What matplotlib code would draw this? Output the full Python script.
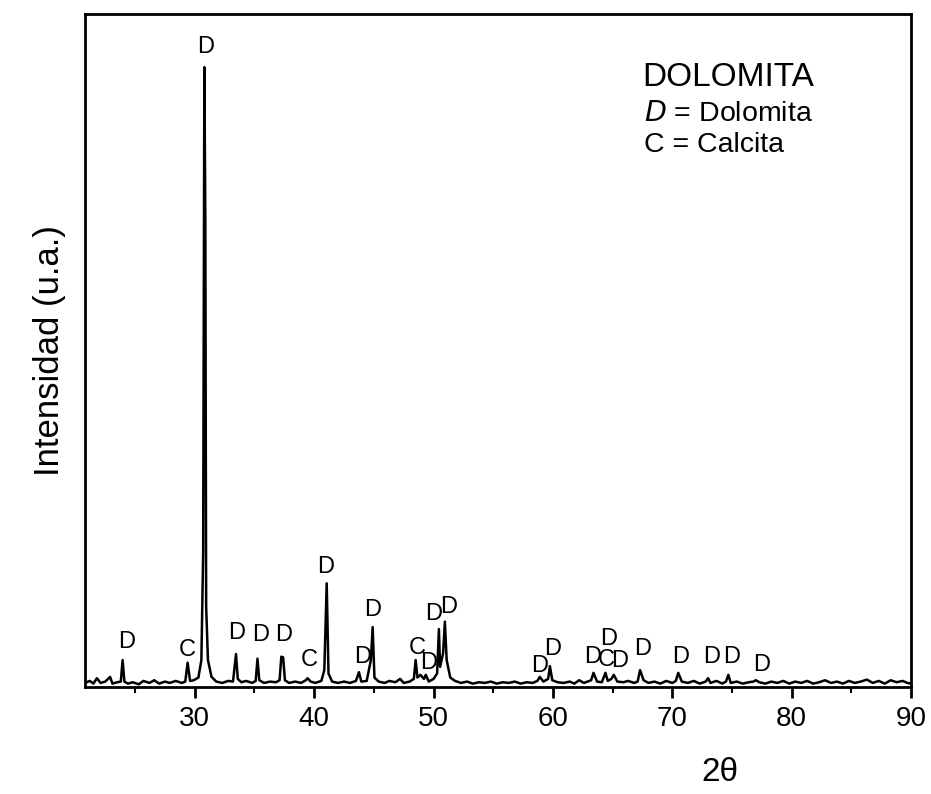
import matplotlib
matplotlib.use("Agg")
import matplotlib.pyplot as plt
from matplotlib.ticker import MultipleLocator

plt.rcParams['font.family'] = ['Liberation Sans', 'DejaVu Sans']

# difractograma (2θ, intensidad u.a.)
two_theta = [20.8, 21.2, 21.5, 21.8, 22.1, 22.5, 22.9, 23.1, 23.5, 23.8, 23.95, 24.1, 24.4,
             24.8, 25.3, 25.7, 26.2, 26.6, 27.0, 27.5, 27.9, 28.4, 28.9, 29.2, 29.4, 29.6,
             29.9, 30.3, 30.55, 30.7, 30.8, 30.88, 30.95, 31.1, 31.4, 31.8, 32.3, 32.8, 33.2,
             33.45, 33.6, 33.9, 34.3, 34.8, 35.1, 35.25, 35.4, 35.8, 36.3, 36.8, 37.1, 37.25,
             37.4, 37.55, 37.9, 38.4, 38.9, 39.3, 39.45, 39.7, 40.1, 40.6, 40.85, 41.05, 41.2,
             41.5, 42.0, 42.5, 43.0, 43.5, 43.75, 43.95, 44.4, 44.75, 44.9, 45.05, 45.4, 45.9,
             46.3, 46.8, 47.2, 47.5, 48.0, 48.35, 48.5, 48.65, 48.9, 49.2, 49.35, 49.6, 50.0,
             50.3, 50.45, 50.55, 50.8, 50.95, 51.1, 51.4, 51.8, 52.3, 52.8, 53.3, 53.8, 54.3,
             54.8, 55.3, 55.8, 56.3, 56.8, 57.3, 57.8, 58.3, 58.7, 58.9, 59.2, 59.6, 59.75,
             59.95, 60.4, 60.9, 61.4, 61.8, 62.2, 62.6, 63.2, 63.4, 63.7, 64.1, 64.4, 64.6,
             64.9, 65.1, 65.4, 65.9, 66.3, 66.8, 67.1, 67.3, 67.6, 68.0, 68.5, 69.0, 69.5,
             70.0, 70.3, 70.5, 70.8, 71.3, 71.8, 72.3, 72.8, 73.0, 73.2, 73.7, 74.2, 74.5,
             74.7, 74.9, 75.4, 75.9, 76.4, 76.8, 77.0, 77.3, 77.8, 78.3, 78.8, 79.3, 79.8,
             80.3, 80.8, 81.3, 81.8, 82.3, 82.8, 83.3, 83.8, 84.3, 84.8, 85.3, 85.8, 86.3,
             86.8, 87.3, 87.8, 88.3, 88.8, 89.3, 89.7, 90.0]
intensity = [6, 9, 5, 13, 6, 8, 15, 5, 7, 8, 40, 8, 5,
             7, 4, 9, 6, 10, 5, 8, 6, 9, 6, 8, 36, 9,
             10, 14, 40, 200, 921, 700, 120, 40, 15, 8, 6, 9, 8,
             49, 12, 7, 9, 6, 9, 42, 10, 6, 8, 7, 10, 45,
             44, 10, 6, 8, 6, 10, 13, 8, 6, 9, 25, 154, 20,
             8, 6, 8, 6, 9, 22, 8, 9, 40, 89, 14, 8, 6,
             9, 7, 12, 6, 8, 12, 40, 14, 18, 12, 18, 8, 12,
             20, 86, 30, 50, 97, 40, 14, 9, 6, 8, 5, 7, 6,
             8, 5, 7, 6, 8, 5, 7, 6, 9, 15, 8, 12, 31,
             10, 7, 6, 8, 5, 10, 6, 10, 21, 8, 7, 21, 9,
             12, 18, 8, 7, 9, 6, 8, 25, 10, 6, 8, 5, 9,
             6, 9, 21, 8, 6, 9, 5, 8, 13, 6, 9, 5, 8,
             18, 6, 8, 5, 7, 8, 10, 7, 5, 8, 6, 9, 5,
             8, 6, 9, 5, 7, 10, 6, 8, 5, 9, 6, 8, 11,
             6, 9, 5, 10, 7, 9, 6, 5]

# etiquetas de fases
peak_labels = ['D', 'C', 'D', 'D', 'D', 'D', 'C', 'D', 'D', 'D', 'C', 'D', 'D', 'D',
               'D', 'D', 'D', 'C', 'D', 'D', 'D', 'D', 'D', 'D', 'D']
label_x = [24.3, 29.4, 30.9, 33.5, 35.5, 37.4, 39.6, 41.0, 44.1, 44.9, 48.6, 49.6, 50.0, 51.3,
           58.9, 60.0, 63.3, 64.5, 64.7, 65.6, 67.5, 70.7, 73.3, 75.0, 77.5]
label_y = [67, 55, 951, 80, 77, 77, 40, 178, 45, 115, 58, 36, 109, 119,
           31, 56, 45, 40, 72, 38, 56, 45, 45, 45, 33]

fig = plt.figure(figsize=(9.31, 7.94), dpi=100)
ax = fig.add_axes([0.0913, 0.1348, 0.8872, 0.8476])
ax.plot(two_theta, intensity, color='black', linewidth=1.8)

for lab, lx, ly in zip(peak_labels, label_x, label_y):
    ax.text(lx, ly, lab, ha='center', va='center', fontsize=17)

ax.text(0.675, 0.905, 'DOLOMITA', transform=ax.transAxes, fontsize=24, va='center')
ax.text(0.677, 0.852, '$D$ = Dolomita', transform=ax.transAxes, fontsize=20.5, va='center')
ax.text(0.677, 0.805, 'C = Calcita', transform=ax.transAxes, fontsize=20.5, va='center')

ax.set_xlim(20.8, 90)
ax.set_ylim(0, 1000)
ax.xaxis.set_major_locator(MultipleLocator(10))
ax.xaxis.set_minor_locator(MultipleLocator(5))
ax.tick_params(axis='x', which='major', direction='out', length=8, width=2, labelsize=20, pad=6)
ax.tick_params(axis='x', which='minor', direction='out', length=4, width=1.5)
ax.set_yticks([])
for s in ax.spines.values():
    s.set_linewidth(2)

ax.set_ylabel('Intensidad (u.a.)', fontsize=25, labelpad=14)
fig.text(0.773, 0.027, '2θ', fontsize=24, ha='center', va='center')

fig.savefig('out.png', dpi=100)
